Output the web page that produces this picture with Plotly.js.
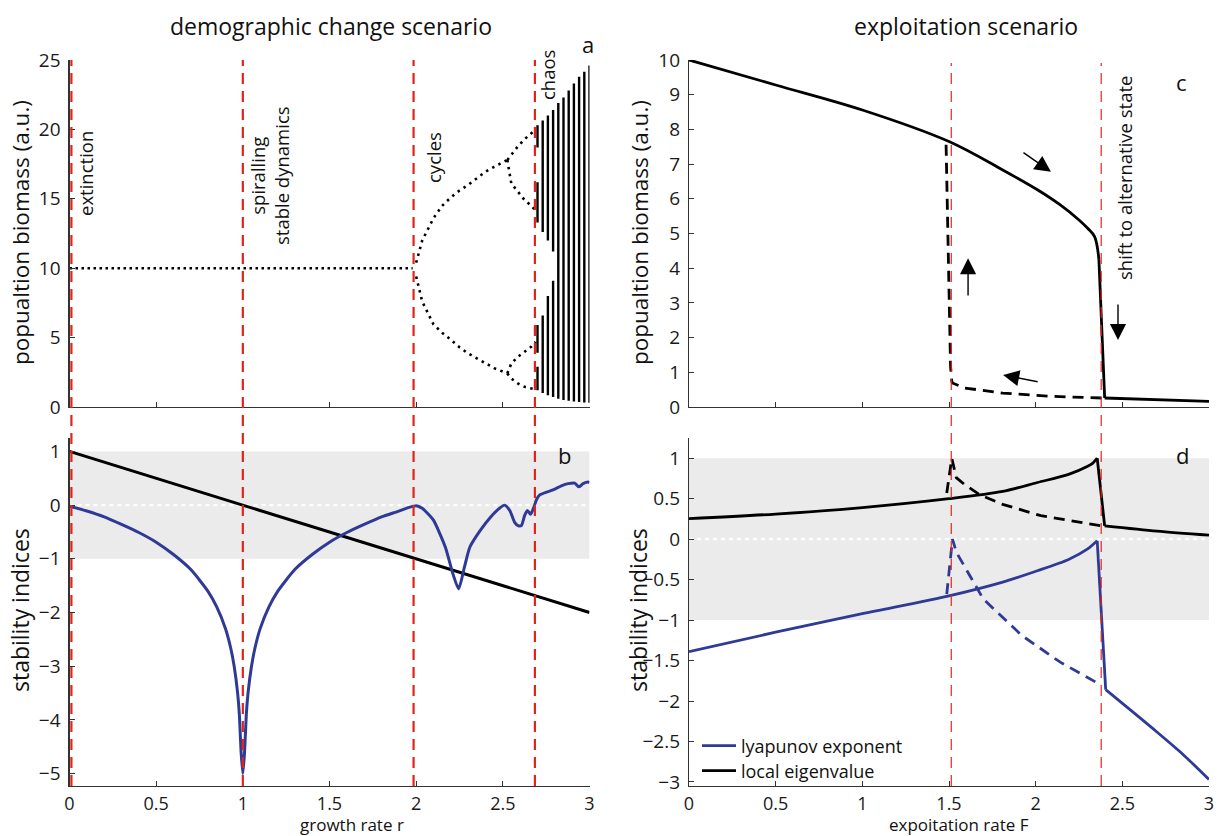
<!DOCTYPE html>
<html><head><meta charset="utf-8">
<script src="https://cdn.plot.ly/plotly-3.0.1.min.js"></script>
<style>html,body{margin:0;padding:0;background:#fff}#chart{width:1221px;height:836px}</style>
</head><body><div id="chart"></div>
<script>
// ---------- panel a: population biomass vs growth rate r (bifurcation) ----------
const eqR = [0, 1.98];
const eqB = [10, 10];
const p2R  = [2.0, 2.035, 2.1, 2.15, 2.2, 2.25, 2.3, 2.35, 2.4, 2.45, 2.5, 2.526];
const p2Up = [10.4, 12.0, 13.6, 14.5, 15.1, 15.6, 16.0, 16.5, 16.95, 17.3, 17.6, 17.8];
const p2Lo = [9.4, 7.6, 5.95, 5.35, 4.85, 4.3, 3.86, 3.5, 3.1, 2.8, 2.55, 2.42];
const p4R  = [2.526, 2.549, 2.588, 2.626, 2.665, 2.69];
const p4A  = [17.8, 18.2, 18.8, 19.3, 19.7, 20.0];
const p4B  = [17.8, 16.1, 15.5, 14.9, 14.5, 14.1];
const p4C  = [2.42, 3.14, 3.62, 3.99, 4.35, 4.7];
const p4D  = [2.42, 2.05, 1.69, 1.45, 1.33, 1.25];
// chaotic band segments: growth rate, lower and upper biomass of each band
const segR  = [2.70, 2.70, 2.70, 2.70, 2.73, 2.73, 2.76, 2.76, 2.79, 2.79, 2.82, 2.85, 2.88, 2.91, 2.94, 2.97, 3.00];
const segLo = [1.2, 3.9, 13.3, 18.7, 1.0, 12.6, 0.85, 12.0, 0.72, 11.2, 0.6, 0.5, 0.45, 0.4, 0.36, 0.33, 0.3];
const segHi = [2.9, 5.9, 16.2, 20.3, 6.6, 20.65, 8.0, 21.0, 9.1, 21.4, 21.9, 22.3, 22.8, 23.3, 23.8, 24.15, 24.6];

// ---------- panel b: stability indices vs growth rate r ----------
const eigR = [0, 3];
const eigVal = [1, -2];
const lyR = [0, 0.1, 0.2, 0.3, 0.4, 0.5, 0.6, 0.7, 0.8, 0.85, 0.9, 0.93, 0.95, 0.97, 0.98, 0.99, 1.0, 1.01, 1.02, 1.03,
  1.05, 1.07, 1.1, 1.15, 1.2, 1.3, 1.4, 1.5, 1.6, 1.7, 1.8, 1.9, 1.95, 2.0, 2.035, 2.068, 2.1, 2.168, 2.212, 2.245,
  2.278, 2.31, 2.37, 2.43, 2.48, 2.51, 2.54, 2.568, 2.588, 2.607, 2.626, 2.642, 2.66, 2.68, 2.694, 2.713, 2.761, 2.8, 2.838, 2.877,
  2.915, 2.938, 2.963, 2.992, 3.0];
const lyVal = [-0.02, -0.11, -0.22, -0.36, -0.51, -0.69, -0.92, -1.2, -1.61, -1.9, -2.3, -2.66, -3.0, -3.5, -3.9, -4.6, -5.0, -4.6, -3.9, -3.5,
  -3.0, -2.66, -2.3, -1.9, -1.61, -1.2, -0.92, -0.69, -0.51, -0.36, -0.22, -0.11, -0.05, -0.01, -0.06, -0.16, -0.28, -0.78, -1.28, -1.56,
  -1.16, -0.78, -0.47, -0.22, -0.06, 0.0, -0.1, -0.32, -0.38, -0.38, -0.19, -0.1, -0.17, -0.03, 0.1, 0.19, 0.25, 0.3, 0.36, 0.4,
  0.41, 0.34, 0.4, 0.43, 0.42];

// ---------- panel c: population biomass vs exploitation rate F ----------
const highF = [0, 0.5, 1.0, 1.5, 1.81, 2.01, 2.14, 2.25, 2.3, 2.34, 2.365, 2.398];
const highB = [10, 9.28, 8.56, 7.65, 6.83, 6.26, 5.83, 5.39, 5.15, 4.91, 4.24, 0.26];
const lowF = [2.398, 2.7, 3.0];
const lowB = [0.26, 0.2, 0.16];
const backF = [2.38, 2.075, 1.81, 1.587, 1.52, 1.516, 1.509, 1.498, 1.487, 1.483];
const backB = [0.26, 0.31, 0.40, 0.55, 0.69, 0.75, 1.17, 4.05, 6.93, 7.6];

// ---------- panel d: stability indices vs exploitation rate F ----------
const eigF = [0, 0.5, 1.0, 1.5, 1.81, 2.01, 2.19, 2.3, 2.33, 2.355, 2.398, 2.7, 3.0];
const eigV = [0.254, 0.31, 0.39, 0.50, 0.59, 0.70, 0.80, 0.90, 0.94, 1.0, 0.165, 0.10, 0.05];
const eigDashF = [1.487, 1.516, 1.542, 1.587, 1.676, 1.81, 2.03, 2.38];
const eigDashV = [0.57, 1.0, 0.76, 0.68, 0.55, 0.43, 0.29, 0.165];
const lyapF = [0, 0.5, 1.0, 1.5, 1.81, 2.01, 2.19, 2.3, 2.355, 2.404, 2.698, 2.85, 3.0];
const lyapV = [-1.39, -1.15, -0.92, -0.70, -0.53, -0.39, -0.25, -0.12, -0.02, -1.86, -2.38, -2.66, -2.97];
const lyapDashF = [1.487, 1.52, 1.542, 1.698, 1.92, 2.142, 2.342, 2.364];
const lyapDashV = [-0.68, 0.0, -0.16, -0.74, -1.19, -1.52, -1.76, -1.78];

// regime boundaries
const leftBounds = [0.011, 1.0, 1.985, 2.685];
const rightBounds = [1.513, 2.378];

// ---------- build ----------
const W = 1221, H = 836;
const FONT = 'Open Sans, Noto Sans, sans-serif';
const BLUE = '#2f3a96';
const RED = '#e1251b';

const chaosX = [], chaosY = [];
segR.forEach((r, i) => { chaosX.push(r, r, null); chaosY.push(segLo[i], segHi[i], null); });

const dotted = (x, y, dash) => ({x, y, xaxis: 'x', yaxis: 'y', mode: 'lines', showlegend: false, hoverinfo: 'skip',
  line: {color: '#000', width: 2.6, dash: dash || '2.5px,4.5px'}});
const part = (arr, a, b) => arr.slice(a, b);

const traces = [
  dotted(eqR, eqB, '2.5px,3.5px'), dotted(p2R, p2Up), dotted(p2R, p2Lo),
  dotted(p4R, p4A), dotted(p4R, p4B), dotted(p4R, p4C), dotted(p4R, p4D),
  {x: chaosX, y: chaosY, xaxis: 'x', yaxis: 'y', mode: 'lines', showlegend: false, hoverinfo: 'skip',
   line: {color: '#000', width: 2.4}},
  {x: eigR, y: eigVal, xaxis: 'x2', yaxis: 'y2', mode: 'lines', showlegend: false, line: {color: '#000', width: 3}},
  {x: lyR, y: lyVal, xaxis: 'x2', yaxis: 'y2', mode: 'lines', showlegend: false, line: {color: BLUE, width: 3, shape: 'spline', smoothing: 0.6}},
  // panel c
  {x: part(highF, 0, 11), y: part(highB, 0, 11), xaxis: 'x3', yaxis: 'y3', mode: 'lines', showlegend: false, line: {color: '#000', width: 2.8, shape: 'spline', smoothing: 1}},
  {x: part(highF, 10), y: part(highB, 10), xaxis: 'x3', yaxis: 'y3', mode: 'lines', showlegend: false, line: {color: '#000', width: 2.8}},
  {x: lowF, y: lowB, xaxis: 'x3', yaxis: 'y3', mode: 'lines', showlegend: false, line: {color: '#000', width: 2.8}},
  {x: backF, y: backB, xaxis: 'x3', yaxis: 'y3', mode: 'lines', showlegend: false, line: {color: '#000', width: 2.8, dash: '11px,7px'}},
  // panel d
  {x: part(lyapF, 0, 9), y: part(lyapV, 0, 9), xaxis: 'x4', yaxis: 'y4', mode: 'lines', name: 'lyapunov exponent', legend: 'legend',
   legendgroup: 'ly', line: {color: BLUE, width: 2.8, shape: 'spline', smoothing: 0.8}},
  {x: part(lyapF, 8, 10), y: part(lyapV, 8, 10), xaxis: 'x4', yaxis: 'y4', mode: 'lines', showlegend: false, legendgroup: 'ly', line: {color: BLUE, width: 2.8}},
  {x: part(lyapF, 9), y: part(lyapV, 9), xaxis: 'x4', yaxis: 'y4', mode: 'lines', showlegend: false, legendgroup: 'ly', line: {color: BLUE, width: 2.8, shape: 'spline', smoothing: 0.8}},
  {x: part(eigF, 0, 10), y: part(eigV, 0, 10), xaxis: 'x4', yaxis: 'y4', mode: 'lines', name: 'local eigenvalue', legend: 'legend2',
   legendgroup: 'eig', line: {color: '#000', width: 2.8, shape: 'spline', smoothing: 0.8}},
  {x: part(eigF, 9, 11), y: part(eigV, 9, 11), xaxis: 'x4', yaxis: 'y4', mode: 'lines', showlegend: false, legendgroup: 'eig', line: {color: '#000', width: 2.8}},
  {x: part(eigF, 10), y: part(eigV, 10), xaxis: 'x4', yaxis: 'y4', mode: 'lines', showlegend: false, legendgroup: 'eig', line: {color: '#000', width: 2.8, shape: 'spline', smoothing: 0.8}},
  {x: lyapDashF, y: lyapDashV, xaxis: 'x4', yaxis: 'y4', mode: 'lines', showlegend: false, line: {color: BLUE, width: 2.8, dash: '11px,7px'}},
  {x: eigDashF, y: eigDashV, xaxis: 'x4', yaxis: 'y4', mode: 'lines', showlegend: false, line: {color: '#000', width: 2.8, dash: '11px,7px'}}
];

const L = [69.5 / W, 589.5 / W], R = [689 / W, 1209 / W];
const T = [1 - 407 / H, 1 - 60 / H], B = [1 - 786 / H, 1 - 438 / H];

const axBase = {showgrid: false, zeroline: false, showline: true, linecolor: '#333', linewidth: 1.2,
  ticks: 'inside', ticklen: 5, tickwidth: 1, tickcolor: '#333', ticklabelstandoff: 4,
  tickfont: {family: FONT, size: 19, color: '#1a1a1a'}, fixedrange: true};
const xa = (domain, anchor, labels) => Object.assign({}, axBase, {domain, anchor, range: [0, 3], dtick: 0.5, tick0: 0,
  showticklabels: labels, ticklabelstandoff: 1, tickfont: {family: FONT, size: 18, color: '#1a1a1a'}});
const ya = (domain, anchor, range, dtick) => Object.assign({}, axBase, {domain, anchor, range, dtick, tick0: 0});

const shapes = [];
[['x2', 'y2'], ['x4', 'y4']].forEach(([xr, yr]) => {
  shapes.push({type: 'rect', xref: xr, yref: yr, x0: 0, x1: 3, y0: -1, y1: 1, fillcolor: '#ebebeb', line: {width: 0}, layer: 'below'});
  shapes.push({type: 'line', xref: xr, yref: yr, x0: 0, x1: 3, y0: 0, y1: 0, line: {color: '#fff', width: 2.2, dash: '4px,4px'}, layer: 'below'});
});
leftBounds.forEach(r => shapes.push({type: 'line', xref: 'x', yref: 'paper', x0: r, x1: r, y0: B[0], y1: T[1],
  line: {color: RED, width: 2.2, dash: '11px,7px'}}));
rightBounds.forEach(f => shapes.push({type: 'line', xref: 'x3', yref: 'paper', x0: f, x1: f, y0: B[0], y1: T[1] - 3 / H,
  line: {color: RED, width: 1.2, dash: '11px,7px'}}));

const txt = (text, px, py, size, extra) => Object.assign({text, x: px / W, y: 1 - py / H, xref: 'paper', yref: 'paper',
  showarrow: false, xanchor: 'center', yanchor: 'middle', font: {family: FONT, size, color: '#111'}}, extra || {});
const rot = {textangle: -90};
const arrow = (hx, hy, tx, ty) => ({xref: 'x3', yref: 'y3', axref: 'x3', ayref: 'y3', x: hx, y: hy, ax: tx, ay: ty,
  text: '', showarrow: true, arrowhead: 2, arrowsize: 2.3, arrowwidth: 1.4, arrowcolor: '#000', standoff: 0, startstandoff: 0});

const annotations = [
  txt('demographic change scenario', 331, 26, 23),
  txt('exploitation scenario', 966, 26, 23),
  txt('a', 588, 44, 22), txt('b', 564, 455, 22), txt('c', 1181, 82, 22), txt('d', 1182, 455, 22),
  txt('popualtion biomass (a.u.)', 21, 233, 22.5, rot),
  txt('stability indices', 20, 610, 23, rot),
  txt('popualtion biomass (a.u.)', 640, 233, 22.5, rot),
  txt('stability indices', 638, 610, 23, rot),
  txt('growth rate r', 352, 824, 17),
  txt('expoitation rate F', 959, 824, 17),
  txt('extinction', 85, 174, 18.5, rot),
  txt('spiralling<br>stable dynamics', 269, 176, 18.5, rot),
  txt('cycles', 433, 158, 18.5, rot),
  txt('chaos', 547, 75, 18.5, rot),
  txt('shift to alternative state', 1124, 178, 18.5, rot),
  arrow(2.088, 6.78, 1.921, 7.36),
  arrow(1.61, 4.29, 1.61, 3.17),
  arrow(2.475, 1.93, 2.475, 3.0),
  arrow(1.812, 0.92, 2.02, 0.72)
];

const legBase = {x: 697 / W, xanchor: 'left', yanchor: 'middle', bgcolor: 'rgba(0,0,0,0)',
  font: {family: FONT, size: 18, color: '#111'}, tracegroupgap: 0, itemwidth: 34};

const layout = {
  width: W, height: H, margin: {l: 0, r: 0, t: 0, b: 0},
  paper_bgcolor: '#fff', plot_bgcolor: 'rgba(0,0,0,0)',
  font: {family: FONT, color: '#111'},
  xaxis: xa(L, 'y', false), yaxis: ya(T, 'x', [0, 25], 5),
  xaxis2: xa(L, 'y2', true), yaxis2: ya(B, 'x2', [-5.23, 1.25], 1),
  xaxis3: xa(R, 'y3', false), yaxis3: ya(T, 'x3', [0, 10], 1),
  xaxis4: xa(R, 'y4', true), yaxis4: ya(B, 'x4', [-3.05, 1.25], 0.5),
  shapes, annotations,
  showlegend: true,
  legend: Object.assign({}, legBase, {y: 1 - 746 / H}),
  legend2: Object.assign({}, legBase, {y: 1 - 771 / H})
};

Plotly.newPlot('chart', traces, layout, {displayModeBar: false, staticPlot: true});
</script>
</body></html>
